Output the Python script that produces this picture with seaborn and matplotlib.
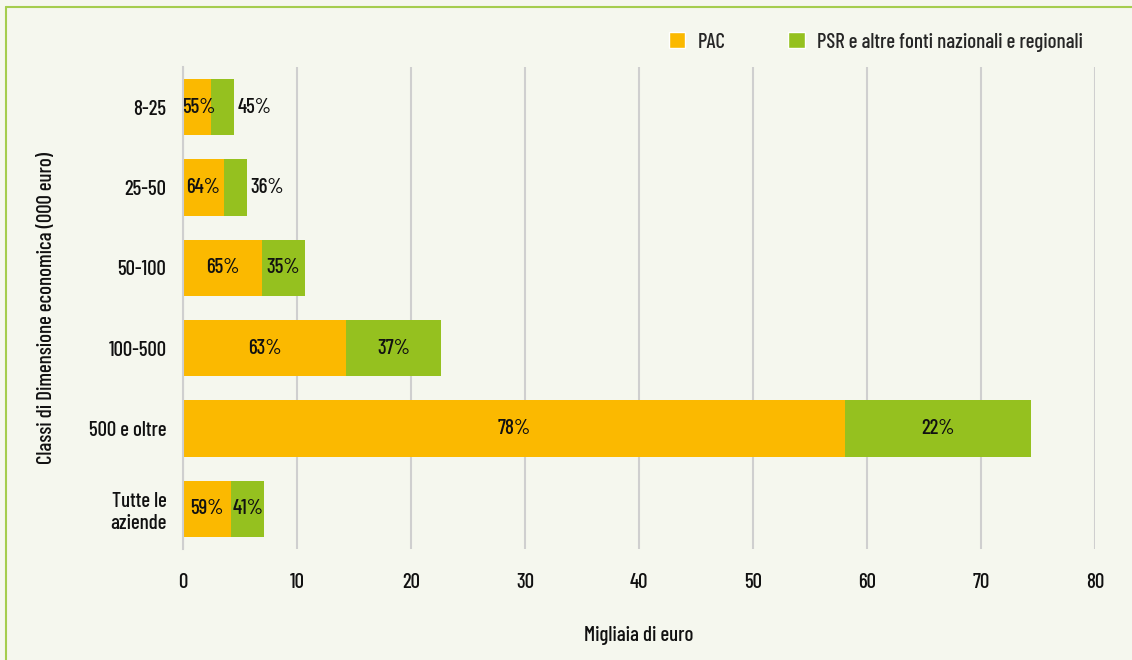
import matplotlib
matplotlib.use("Agg")
import matplotlib.pyplot as plt
from matplotlib.patches import Patch
from matplotlib.lines import Line2D
import pandas as pd
import seaborn as sns

# data (thousand euro per farm)
classes = ["8-25", "25-50", "50-100", "100-500", "500 e oltre", "Tutte le\naziende"]
pac = [2.46, 3.6, 6.95, 14.3, 58.1, 4.25]
psr = [2.01, 2.0, 3.75, 8.3, 16.3, 2.85]
pac_pct = ["55%", "64%", "65%", "63%", "78%", "59%"]
psr_pct = ["45%", "36%", "35%", "37%", "22%", "41%"]

BG = "#F5F7EE"
ORANGE = "#FBB900"
GREEN = "#95C11F"
GRID = "#CFCFCF"
TXT = "#111111"
FS = 15

sns.set_style("white")
plt.rcParams["font.family"] = ["Barlow Condensed", "Roboto Condensed", "DejaVu Sans"]
plt.rcParams["font.stretch"] = "condensed"
plt.rcParams["font.weight"] = "medium"
plt.rcParams["axes.labelweight"] = "medium"
plt.rcParams["font.size"] = FS

df = pd.DataFrame({"classe": classes, "pac": pac, "psr": psr})
df["totale"] = df["pac"] + df["psr"]

fig = plt.figure(figsize=(11.32, 6.60), dpi=100, facecolor=BG)
ax = fig.add_axes([183 / 1132, 1 - 549 / 660, (1095 - 183) / 1132, (549 - 67) / 660])
ax.set_facecolor(BG)

# stacked bars: total (green) underneath, PAC (orange) on top
sns.barplot(data=df, x="totale", y="classe", color=GREEN, width=0.7,
            saturation=1, orient="h", linewidth=0, ax=ax, zorder=3)
sns.barplot(data=df, x="pac", y="classe", color=ORANGE, width=0.7,
            saturation=1, orient="h", linewidth=0, ax=ax, zorder=3)

for i in range(len(classes)):
    ax.text(max(pac[i] / 2, 1.4), i, pac_pct[i], ha="center", va="center",
            fontsize=FS, color=TXT, zorder=4)
    if psr[i] < 2.5:
        ax.text(df["totale"][i] + 0.35, i, psr_pct[i], ha="left", va="center",
                fontsize=FS, color=TXT, zorder=4)
    else:
        ax.text(pac[i] + psr[i] / 2, i, psr_pct[i], ha="center", va="center",
                fontsize=FS, color=TXT, zorder=4)

ax.set_xlim(0, 80)
ax.set_ylim(5.5, -0.5)
ax.set_xticks(range(0, 81, 10))
ax.grid(axis="x", color=GRID, linewidth=1.5, zorder=0)
ax.grid(axis="y", visible=False)
for s in ["top", "right", "bottom"]:
    ax.spines[s].set_visible(False)
ax.spines["left"].set_color(GRID)
ax.spines["left"].set_linewidth(1.5)
ax.spines["left"].set_zorder(5)

ax.tick_params(axis="x", length=0, pad=17, labelsize=FS, labelcolor=TXT)
ax.tick_params(axis="y", which="major", length=0, pad=12, labelsize=FS, labelcolor=TXT)
ax.set_yticks([i + 0.5 for i in range(-1, len(classes))], minor=True)
ax.tick_params(axis="y", which="minor", length=5, width=1.5, color=GRID)

ax.set_xlabel("Migliaia di euro", fontsize=FS, labelpad=25, color=TXT)
ax.set_ylabel("Classi di Dimensione economica (000 euro)", fontsize=FS,
              labelpad=24, color=TXT)

handles = [Patch(facecolor=ORANGE, label="PAC"),
           Patch(facecolor=GREEN, label="PSR e altre fonti nazionali e regionali")]
fig.legend(handles=handles, loc="center right", bbox_to_anchor=(1102 / 1132, 1 - 42 / 660),
           ncol=2, frameon=False, handlelength=0.8, handleheight=0.8,
           handletextpad=0.6, columnspacing=3.0, fontsize=FS)

# thin green frame on the left and top edges
fig.add_artist(Line2D([5.5 / 1132, 5.5 / 1132], [0, 1 - 7 / 660], color="#A5CD4E",
                      linewidth=1.5, transform=fig.transFigure))
fig.add_artist(Line2D([5.5 / 1132, 1], [1 - 7 / 660, 1 - 7 / 660], color="#A5CD4E",
                      linewidth=1.5, transform=fig.transFigure))

fig.savefig("out.png", dpi=100, facecolor=BG)
